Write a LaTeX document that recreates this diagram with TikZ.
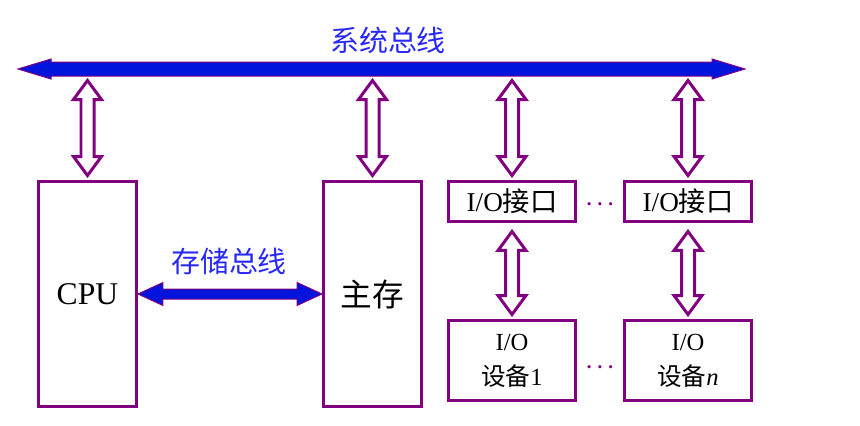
\documentclass[tikz,border=0pt]{standalone}
\usepackage{fontspec}
\setmainfont{Liberation Serif}
\newfontfamily\cjk{Noto Sans CJK SC}
\usetikzlibrary{shapes,arrows,positioning,calc}

\definecolor{buspurple}{RGB}{128,0,128}
\definecolor{busblue}{RGB}{0,20,220}
\definecolor{labelblue}{RGB}{40,40,250}

\newcommand{\vlink}[2]{%
  \draw[hollow] ($#1$) -- ++(14,19) -- ++(-7.5,0) -- ($#2+(6.5,-19)$) -- ++(7.5,0) -- ($#2$)
    -- ++(-14,-19) -- ++(7.5,0) -- ($#1+(-6.5,19)$) -- ++(-7.5,0) -- cycle;}
\newcommand{\hbus}[5]{%
  \draw[bus] ($#1$) -- ++(#5,-#4) -- ++(0,#4-#3) -- ($#2+(-#5,-#3)$) -- ++(0,#3-#4) -- ($#2$)
    -- ++(-#5,#4) -- ++(0,#3-#4) -- ($#1+(#5,#3)$) -- ++(0,#4-#3) -- cycle;}

\begin{document}
\begin{tikzpicture}[x=0.02cm, y=-0.02cm]
\tikzstyle{unit} = [draw=buspurple, line width=0.06cm, fill=white, text centered, align=center, inner sep=0pt]
\tikzstyle{big} = [unit, minimum width=1.96cm, minimum height=4.5cm, font=\fontsize{18pt}{20pt}\selectfont]
\tikzstyle{port} = [unit, minimum width=2.54cm, minimum height=0.8cm, font=\fontsize{15.5pt}{17pt}\selectfont]
\tikzstyle{device} = [unit, minimum width=2.54cm, minimum height=1.6cm, font=\fontsize{14pt}{20pt}\selectfont]
\tikzstyle{hollow} = [draw=buspurple, line width=0.06cm, fill=white]
\tikzstyle{bus} = [draw=buspurple, line width=0.02cm, fill=busblue]
\tikzstyle{buslabel} = [text=labelblue, font=\cjk\fontsize{16.5pt}{18pt}\selectfont]
\tikzstyle{dots} = [text=buspurple, font=\fontsize{12pt}{14pt}\selectfont\boldmath, inner sep=0pt]

\useasboundingbox (0,0) rectangle (860,426);

\node[big] (cpu) at (87.5,294) {CPU};
\node[big] (mem) at (372.5,294) {{\cjk 主存}};
\node[port] (io1) at (512,201.5) {I/O{\cjk 接口}};
\node[port] (io2) at (688,201.5) {I/O{\cjk 接口}};
\node[device] (dev1) at (512,360.5) {I/O\\{\cjk 设备}1};
\node[device] (devn) at (688,360.5) {I/O\\{\cjk 设备}\textit{n}};

\coordinate (sysL) at (18,69);
\coordinate (sysR) at (745,69);
\coordinate (sysbot) at (0,80.5);

\hbus{(sysL)}{(sysR)}{7}{10}{33}
\hbus{(cpu.east)}{(mem.west)}{5}{11.5}{25}

\node[buslabel] (sysname) at (388,40) {系统总线};
\node[buslabel] (memname) at (229,261) {存储总线};

\vlink{(cpu.north |- sysbot)}{(cpu.north)+(0,-4.5)}
\vlink{(mem.north |- sysbot)}{(mem.north)+(0,-4.5)}
\vlink{(io1.north |- sysbot)}{(io1.north)+(0,-4.5)}
\vlink{(io2.north |- sysbot)}{(io2.north)+(0,-4.5)}
\vlink{(io1.south)+(0,8.5)}{(dev1.north)+(0,-4.5)}
\vlink{(io2.south)+(0,8.5)}{(devn.north)+(0,-4.5)}

\node[dots] (dotsA) at ($(io1.east)!0.5!(io2.west)+(0,3.5)$) {$\cdots$};
\node[dots] (dotsB) at ($(dev1.east)!0.5!(devn.west)+(0,7.5)$) {$\cdots$};
\end{tikzpicture}
\end{document}
